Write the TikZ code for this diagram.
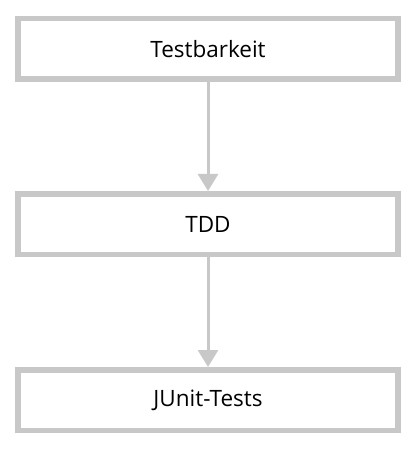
\documentclass[tikz,border=0pt]{standalone}
\usepackage{fontspec}
\setmainfont{Open Sans}
\usetikzlibrary{arrows.meta, positioning}

\definecolor{stagegray}{RGB}{200,200,200}

\tikzset{
  stage box/.style={draw=stagegray, line width=5.5pt, fill=white,
    minimum width=380pt, minimum height=60.5pt, inner sep=0pt,
    font=\fontsize{22.5}{27}\selectfont},
  stage arrow/.style={draw=stagegray, line width=3pt,
    -{Triangle[width=20pt, length=17pt]}}
}

\begin{document}
\begin{tikzpicture}[x=1pt, y=-1pt]

        \useasboundingbox (0,0) rectangle (416,454);

        \foreach \l/\y [count=\i] in {Testbarkeit/49, TDD/224, JUnit-Tests/400}
        \node [stage box] (stage-\i) at (208,\y) {\l};

        \foreach \i [count=\j from 2] in {1,2}
        \draw [stage arrow] (stage-\i) -- (stage-\j);

\end{tikzpicture}
\end{document}
